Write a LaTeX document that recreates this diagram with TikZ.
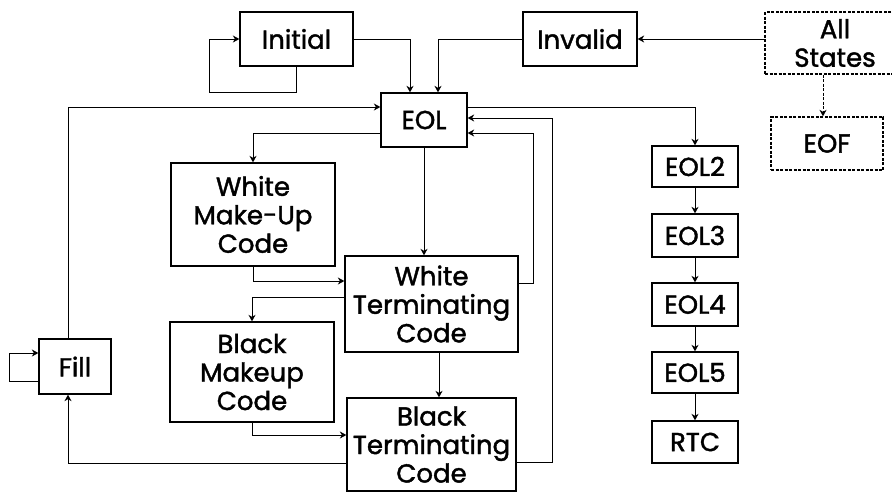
\documentclass[tikz,border=0pt]{standalone}
\usepackage{fontspec}
\setmainfont{Poppins}[FakeBold=1.6]
\usetikzlibrary{arrows.meta}
\begin{document}
\begin{tikzpicture}[x=1pt,y=-1pt,
  box/.style={draw, line width=1.3pt, align=center, inner sep=0pt,
    font=\fontsize{26}{28.5}\selectfont},
  dbox/.style={box, dashed, dash pattern=on 3pt off 1.5pt},
  arr/.style={line width=1pt, -{Stealth[length=6.5pt,width=7pt,inset=2pt]}},
  ln/.style={line width=1pt}]
\useasboundingbox (0,0) rectangle (892,493);
\clip (0,0) rectangle (892,493);
% nodes
\node[box, minimum width=113pt, minimum height=54pt] (init) at (296.5,39) {Initial};
\node[box, minimum width=114pt, minimum height=54pt] (inval) at (580,39) {Invalid};
\node[dbox, minimum width=140pt, minimum height=62pt] (allst) at (835,43) {All\\States};
\node[dbox, minimum width=112pt, minimum height=53pt] (eof) at (827,143.5) {EOF};
\node[box, minimum width=86pt, minimum height=54pt] (eol) at (424,120) {EOL};
\node[box, minimum width=164pt, minimum height=103pt] (wmu) at (253,214.5) {White\\Make-Up\\Code};
\node[box, minimum width=173pt, minimum height=96pt] (wt) at (431.5,304) {White\\Terminating\\Code};
\node[box, minimum width=164pt, minimum height=100pt] (bmu) at (252,372) {Black\\Makeup\\Code};
\node[box, minimum width=169pt, minimum height=93pt] (bt) at (431.5,444.5) {Black\\Terminating\\Code};
\node[box, minimum width=72pt, minimum height=55pt] (fill) at (75,366.5) {Fill};
\node[box, minimum width=86pt, minimum height=41pt] (eol2) at (695,166.5) {EOL2};
\node[box, minimum width=86pt, minimum height=43pt] (eol3) at (695,235.5) {EOL3};
\node[box, minimum width=86pt, minimum height=43pt] (eol4) at (695,304.5) {EOL4};
\node[box, minimum width=86pt, minimum height=41pt] (eol5) at (695,372.5) {EOL5};
\node[box, minimum width=86pt, minimum height=42pt] (rtc) at (695,442) {RTC};
% connectors
\draw[arr] (init.south) -- ++(0,26) -| ([xshift=-30pt]init.west) -- (init.west);
\draw[arr] (init.east) -| ([xshift=-14pt]eol.north);
\draw[arr] (inval.west) -| ([xshift=14pt]eol.north);
\draw[arr] (allst.west |- inval.east) -- (inval.east);
\draw[arr, dashed, dash pattern=on 3pt off 1.5pt] ([xshift=-12pt]allst.south) -- ([xshift=-4pt]eof.north);
\draw[arr] ([xshift=-7pt]fill.north) |- ([yshift=13pt]eol.west);
\draw[arr] ([yshift=-13pt]eol.west) -| (wmu.north);
\draw[arr] (eol.south) -- (eol.south |- wt.north);
\draw[arr] (wmu.south) |- ([yshift=23pt]wt.west);
\draw[arr] ([yshift=7pt]wt.west) -| (bmu.north);
\draw[arr] (bmu.south) |- ([yshift=9.5pt]bt.west);
\draw[arr] ([xshift=7.5pt]wt.south) -- ([xshift=7.5pt]bt.north);
\draw[arr] ([yshift=-18.5pt]bt.west) -| ([xshift=-7pt]fill.south);
\draw[arr] ([yshift=-14.5pt]fill.west) -- ++(-29,0) |- ([yshift=13.5pt]fill.west);
\draw[arr] ([yshift=21pt]wt.east) -- ++(15,0) |- ([yshift=-13pt]eol.east);
\draw[arr] ([yshift=-17.5pt]bt.east) -- ++(36,0) |- ([yshift=2pt]eol.east);
\draw[arr] ([yshift=13pt]eol.east) -| (eol2.north);
\draw[arr] (eol2) -- (eol3);
\draw[arr] (eol3) -- (eol4);
\draw[arr] (eol4) -- (eol5);
\draw[arr] (eol5) -- (rtc);
\end{tikzpicture}
\end{document}
